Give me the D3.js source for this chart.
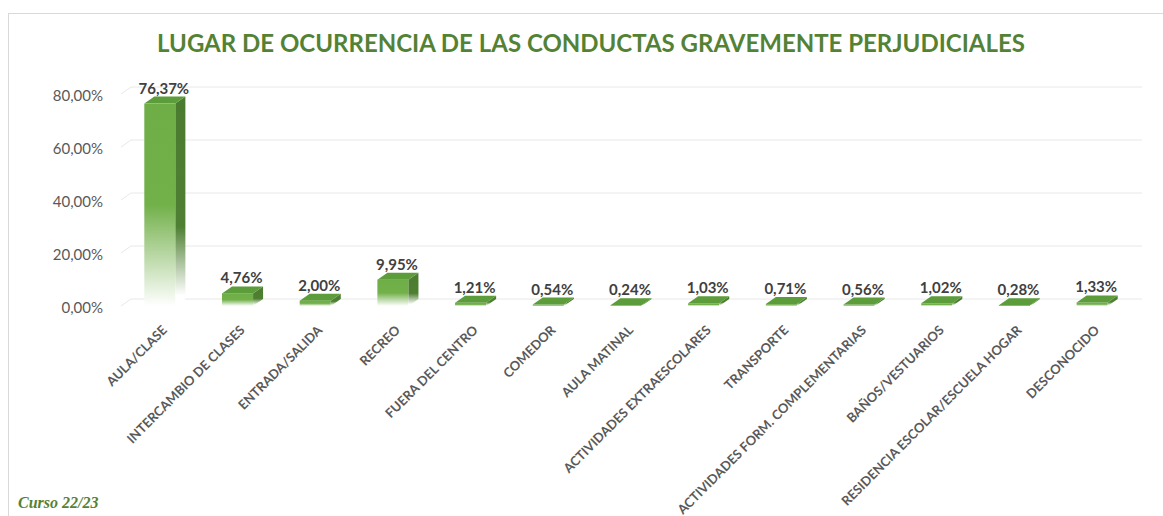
<!DOCTYPE html>
<html>
<head>
<meta charset="utf-8">
<script src="https://cdn.jsdelivr.net/npm/d3@7"></script>
<style>
  body { margin: 0; background: #fff; }
  svg { display: block; }
</style>
</head>
<body>
<div id="chart"></div>
<script>
const title = 'LUGAR DE OCURRENCIA DE LAS CONDUCTAS GRAVEMENTE PERJUDICIALES';
const categories = ['AULA/CLASE', 'INTERCAMBIO DE CLASES', 'ENTRADA/SALIDA', 'RECREO', 'FUERA DEL CENTRO',
    'COMEDOR', 'AULA MATINAL', 'ACTIVIDADES EXTRAESCOLARES', 'TRANSPORTE',
    'ACTIVIDADES FORM. COMPLEMENTARIAS', 'BAÑOS/VESTUARIOS', 'RESIDENCIA ESCOLAR/ESCUELA HOGAR', 'DESCONOCIDO'];
const values = [76.37, 4.76, 2.00, 9.95, 1.21, 0.54, 0.24, 1.03, 0.71, 0.56, 1.02, 0.28, 1.33];
const yTicks = [0, 20, 40, 60, 80];
const footnote = 'Curso 22/23';

const fmt = v => v.toFixed(2).replace('.', ',') + '%';

const width = 1163;
const height = 516;
const dx = 10, dy = 7; // depth offset of the 3d bars

const svg = d3.select('#chart')
    .append('svg')
    .attr('width', width)
    .attr('height', height);

const defs = svg.append('defs');
const front = defs.append('linearGradient')
    .attr('id', 'gFront').attr('x1', 0).attr('y1', 0).attr('x2', 0).attr('y2', 1);
front.append('stop').attr('offset', 0).attr('stop-color', '#6fad47');
front.append('stop').attr('offset', 0.5).attr('stop-color', '#72b04a');
front.append('stop').attr('offset', 1).attr('stop-color', '#ffffff');
const side = defs.append('linearGradient')
    .attr('id', 'gSide').attr('x1', 0).attr('y1', 0).attr('x2', 0).attr('y2', 1);
side.append('stop').attr('offset', 0).attr('stop-color', '#4a7b2e');
side.append('stop').attr('offset', 0.62).attr('stop-color', '#4e7f32');
side.append('stop').attr('offset', 0.95).attr('stop-color', '#ffffff');

// chart border
svg.append('rect')
    .attr('x', 8.5).attr('y', 13.5)
    .attr('width', 1300).attr('height', 600)
    .attr('fill', 'none')
    .attr('stroke', '#d9d9d9');

svg.append('text')
    .attr('x', 591).attr('y', 52)
    .attr('text-anchor', 'middle')
    .attr('font-family', 'Lato, sans-serif')
    .attr('font-weight', 'bold')
    .attr('font-size', 24)
    .attr('fill', '#548235')
    .text(title);

const xScale = d3.scaleBand()
    .domain(categories)
    .range([121, 1131])
    .paddingInner(0.6)
    .paddingOuter(0.3);

const yScale = d3.scaleLinear()
    .domain([0, 80])
    .range([299, 87]);

// gridlines on back wall plus the left wall diagonal
const grid = svg.append('g');
yTicks.forEach(t => {
    const y = yScale(t);
    grid.append('line')
        .attr('x1', 121 + dx).attr('x2', 1142)
        .attr('y1', y).attr('y2', y)
        .attr('stroke', '#e8e8e8');
    grid.append('line')
        .attr('x1', 121).attr('y1', y + dy)
        .attr('x2', 121 + dx).attr('y2', y)
        .attr('stroke', '#e8e8e8');
});

const yAxis = svg.append('g')
    .attr('transform', `translate(103, ${dy + 2})`)
    .call(d3.axisLeft(yScale).tickValues(yTicks).tickFormat(fmt).tickSize(0).tickPadding(0));
yAxis.select('.domain').remove();
yAxis.selectAll('text')
    .attr('font-family', 'Lato, sans-serif')
    .attr('font-size', 15)
    .attr('fill', '#595959');

const data = categories.map((c, i) => ({ c, v: values[i] }));
const bw = xScale.bandwidth();
const y0 = yScale(0) + dy;

const bars = svg.append('g').selectAll('g').data(data).join('g');
bars.append('rect')
    .attr('x', d => xScale(d.c))
    .attr('y', d => yScale(d.v) + dy)
    .attr('width', bw)
    .attr('height', d => Math.max(0.6, y0 - yScale(d.v) - dy))
    .attr('fill', 'url(#gFront)');
bars.append('polygon')
    .attr('points', d => {
        const x = xScale(d.c), yt = yScale(d.v) + dy;
        return [[x + bw, yt], [x + bw + dx, yt - dy], [x + bw + dx, y0 - dy], [x + bw, y0]].join(' ');
    })
    .attr('fill', 'url(#gSide)');
bars.append('polygon')
    .attr('points', d => {
        const x = xScale(d.c), yt = yScale(d.v) + dy;
        return [[x, yt], [x + dx, yt - dy], [x + bw + dx, yt - dy], [x + bw, yt]].join(' ');
    })
    .attr('fill', '#5c9c3b');

bars.append('text')
    .attr('x', d => xScale(d.c) + bw / 2 + 4)
    .attr('y', d => yScale(d.v) - 3)
    .attr('text-anchor', 'middle')
    .attr('font-family', 'Lato, sans-serif')
    .attr('font-weight', 'bold')
    .attr('font-size', 15)
    .attr('fill', '#404040')
    .text(d => fmt(d.v));

svg.append('g').selectAll('text').data(categories).join('text')
    .attr('transform', d => `translate(${xScale(d) + bw / 2 + 8}, 331) rotate(-45)`)
    .attr('text-anchor', 'end')
    .attr('font-family', 'Lato, sans-serif')
    .attr('font-weight', 'bold')
    .attr('font-size', 13)
    .attr('fill', '#595959')
    .text(d => d);

svg.append('text')
    .attr('x', 18).attr('y', 508)
    .attr('font-family', '"Liberation Serif", serif')
    .attr('font-style', 'italic')
    .attr('font-weight', 'bold')
    .attr('font-size', 16)
    .attr('fill', '#548235')
    .text(footnote);
</script>
</body>
</html>
